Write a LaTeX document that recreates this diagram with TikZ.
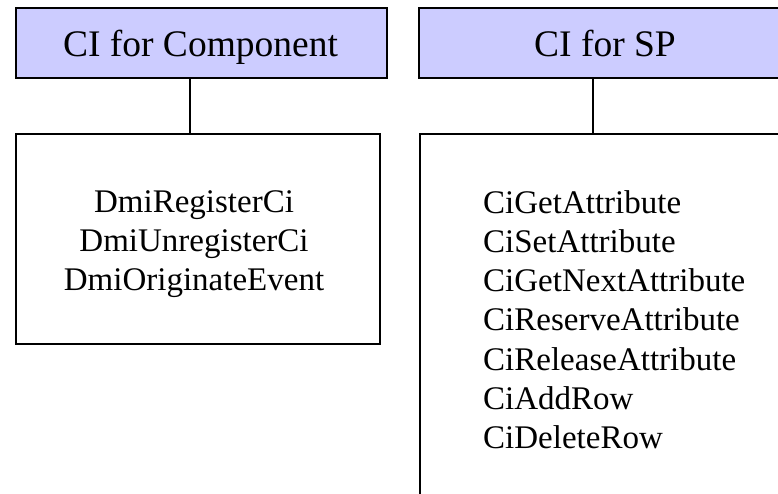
\documentclass[tikz,border=0pt]{standalone}
\usepackage{fontspec}
\setmainfont{Liberation Serif}
\definecolor{hdr}{HTML}{CCCCFF}
\tikzset{
  hbox/.style={draw=black, line width=2pt, fill=hdr, inner sep=0pt, anchor=north west},
  bbox/.style={draw=black, line width=2pt, fill=white, inner sep=0pt, anchor=north west},
  htxt/.style={inner sep=0pt, font=\fontsize{37.5}{45}\selectfont},
  txt/.style={inner sep=0pt, font=\fontsize{33}{39.1}\selectfont},
  link/.style={draw=black, line width=2pt}
}
\begin{document}
\begin{tikzpicture}[x=1pt,y=-1pt]
\useasboundingbox (0,0) rectangle (778,493);
\clip (0,0) rectangle (778,493);
% left column
\node[hbox, minimum width=371pt, minimum height=70pt] (hl) at (15,7) {};
\node[htxt, anchor=base] (hlt) at (200.5,56) {CI for Component};
\node[bbox, minimum width=364pt, minimum height=210pt] (bl) at (15,133) {};
\node[txt, align=center, anchor=north] (blt) at (194,190.5) {DmiRegisterCi\\DmiUnregisterCi\\DmiOriginateEvent};
\draw[link] (hl.south -| 190,0) -- (bl.north -| 190,0);
% right column
\node[hbox, minimum width=374pt, minimum height=70pt] (hr) at (418,7) {};
\node[htxt, anchor=base] (hrt) at (605,56) {CI for SP};
\node[bbox, minimum width=420pt, minimum height=420pt] (br) at (419,133) {};
\node[txt, align=left, anchor=north west] (brt) at (483,190.5) {CiGetAttribute\\CiSetAttribute\\CiGetNextAttribute\\CiReserveAttribute\\CiReleaseAttribute\\CiAddRow\\CiDeleteRow};
\coordinate (cr) at (593,0);
\draw[link] (hr.south -| cr) -- (br.north -| cr);
\end{tikzpicture}
\end{document}
